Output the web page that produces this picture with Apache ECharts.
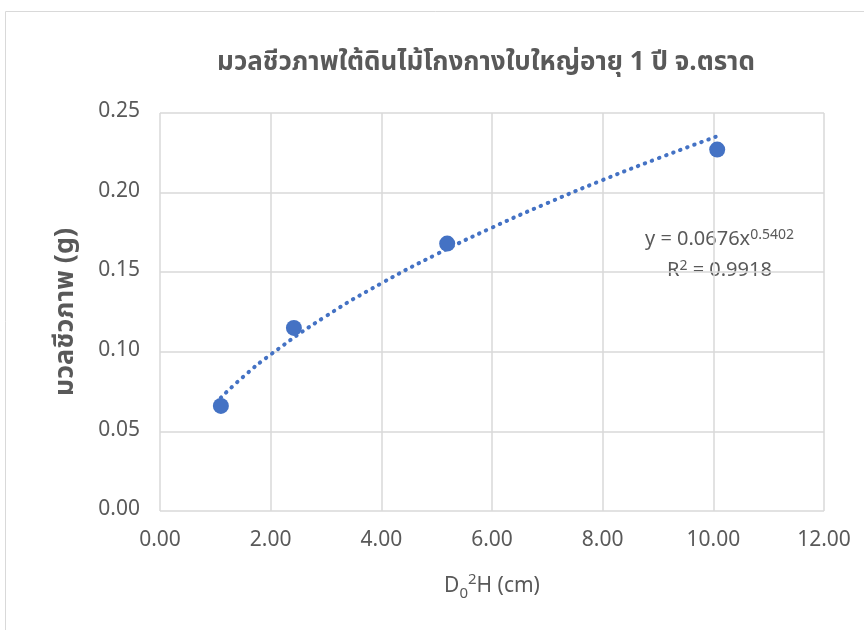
<!DOCTYPE html>
<html><head><meta charset="utf-8">
<script src="https://cdn.jsdelivr.net/npm/echarts@6/dist/echarts.min.js"></script>
<style>html,body{margin:0;padding:0;background:#fff}#c{width:864px;height:630px}</style>
</head><body><div id="c"></div>
<script>
const xValues = [1.10, 2.42, 5.19, 10.07];
const yValues = [0.066, 0.115, 0.168, 0.227];
const trendX = [1.10, 1.5, 2, 3, 4, 5, 6, 7, 8, 9, 10.07];
const trendY = [0.0712, 0.0842, 0.0983, 0.1224, 0.1430, 0.1613, 0.1780, 0.1934, 0.2079, 0.2215, 0.2354];
const xTicks = ['0.00','2.00','4.00','6.00','8.00','10.00','12.00'];
const yTicks = ['0.00','0.05','0.10','0.15','0.20','0.25'];

const font = '"Noto Sans Thai","Leelawadee UI","Noto Sans","Open Sans",sans-serif';
const chart = echarts.init(document.getElementById('c'));
chart.setOption({
  animation: false,
  title: {
    text: 'มวลชีวภาพใต้ดินไม้โกงกางใบใหญ่อายุ 1 ปี จ.ตราด',
    left: 481, top: 47, textAlign: 'center',
    textStyle: {fontFamily: font, fontSize: 26, fontWeight: 'bold', color: '#595959'}
  },
  grid: {left: 160, right: 40, top: 113, bottom: 119},
  xAxis: {
    type: 'value', min: 0, max: 12, interval: 2,
    axisLine: {show: false}, axisTick: {show: false},
    splitLine: {lineStyle: {color: '#d9d9d9', width: 1.5}},
    axisLabel: {fontFamily: font, fontSize: 21, color: '#595959', margin: 20,
      formatter: v => xTicks[Math.round(v/2)]},
    name: '{n|D}{sub|0}{sup|2}{n|H (cm)}', nameLocation: 'middle', nameGap: 62,
    nameTextStyle: {rich: {
      n: {fontFamily: font, fontSize: 21, color: '#595959'},
      sub: {fontFamily: font, fontSize: 15, color: '#595959', verticalAlign: 'bottom', padding: [14,0,0,0]},
      sup: {fontFamily: font, fontSize: 15, color: '#595959', verticalAlign: 'top', padding: [0,0,12,0]}
    }}
  },
  yAxis: {
    type: 'value', min: 0, max: 0.25, interval: 0.05,
    axisLine: {show: false}, axisTick: {show: false},
    splitLine: {lineStyle: {color: '#d9d9d9', width: 1.5}},
    axisLabel: {fontFamily: font, fontSize: 21, color: '#595959', margin: 20,
      formatter: v => yTicks[Math.round(v/0.05)]},
    name: 'มวลชีวภาพ (g)', nameLocation: 'middle', nameGap: 79,
    nameTextStyle: {fontFamily: font, fontSize: 27, fontWeight: 'bold', color: '#595959'}
  },
  series: [
    {type: 'line', data: trendX.map((x,i)=>[x, trendY[i]]), smooth: true, symbol: 'none',
     lineStyle: {color: '#4472C4', width: 4, type: [0.5, 7], cap: 'round'}, z: 2},
    {type: 'scatter', data: xValues.map((x,i)=>[x, yValues[i]]), symbolSize: 16,
     itemStyle: {color: '#4472C4', opacity: 1}, z: 3}
  ],
  graphic: [
    {type: 'rect', shape: {x: 5.5, y: 11.5, width: 900, height: 700}, silent: true,
     style: {fill: 'none', stroke: '#d9d9d9', lineWidth: 1}},
    {type: 'text', left: 645, top: 229, style: {
      text: '{n|y = 0.0676x}{s|0.5402}', rich: {
        n: {fontFamily: font, fontSize: 20, fill: '#595959'},
        s: {fontFamily: font, fontSize: 14, fill: '#595959', verticalAlign: 'top', padding: [0,0,10,0]}
      }}},
    {type: 'text', left: 667, top: 260, style: {
      text: '{n|R}{s|2}{n| = 0.9918}', rich: {
        n: {fontFamily: font, fontSize: 20, fill: '#595959'},
        s: {fontFamily: font, fontSize: 14, fill: '#595959', verticalAlign: 'top', padding: [0,0,10,0]}
      }}}
  ]
});
</script></body></html>
